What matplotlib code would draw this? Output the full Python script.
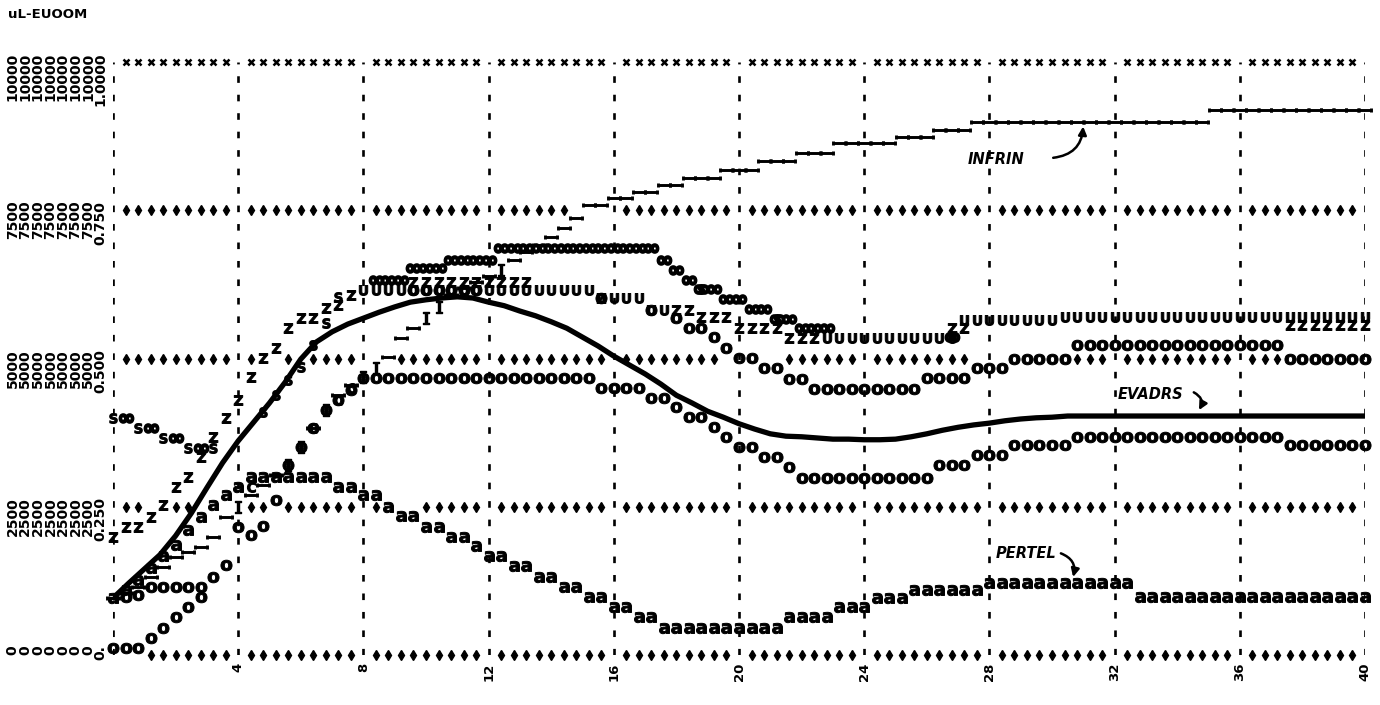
import numpy as np
import matplotlib
matplotlib.use("Agg")
import matplotlib.pyplot as plt
from matplotlib.path import Path

nan = np.nan

# ---------------- data ----------------
TIME = np.round(np.arange(101) * 0.4, 1)          # printer rows, every 0.4
EVADRS_TIME = np.arange(81) * 0.5
X_TICKS = [4, 8, 12, 16, 20, 24, 28, 32, 36, 40]
Y_GRID = [0, 25, 50, 75, 100]
SCALE_LABELS = ["0", "2500", "5000", "7500", "10000"]
SCALE_LABELS_LAST = ["0.", "0.250", "0.500", "0.750", "1.0000"]

EVADRS = [9.6, 12.1, 14.5, 16.9, 20.1, 23.9, 28.2, 32.4, 36.1, 39.3,
          42.5, 46.0, 49.9, 52.8, 54.5, 55.8, 56.8, 57.8, 58.7, 59.5,
          59.9, 60.2, 60.4, 60.2, 59.5, 58.9, 58.0, 57.2, 56.2, 55.1,
          53.6, 52.1, 50.4, 48.9, 47.4, 45.7, 43.8, 42.5, 41.1, 40.1,
          39.0, 38.1, 37.3, 36.9, 36.8, 36.6, 36.4, 36.4, 36.3, 36.3,
          36.4, 36.8, 37.3, 37.9, 38.4, 38.8, 39.1, 39.5, 39.8, 40.0,
          40.1, 40.3, 40.3, 40.3, 40.3, 40.3, 40.3, 40.3, 40.3, 40.3,
          40.3, 40.3, 40.3, 40.3, 40.3, 40.3, 40.3, 40.3, 40.3, 40.3,
          40.3]

PERTEL = [9.6, 11.0, 12.6, 14.7, 16.7, 18.5, 21.1, 23.3, 25.3, 27.0,
          28.3, 30.0, 30.0, 30.0, 30.0, 30.0, 30.0, 30.0, 28.3, 28.3,
          27.0, 27.0, 25.0, 23.4, 23.4, 21.6, 21.6, 19.9, 19.9, 18.4,
          16.7, 16.7, 15.0, 15.0, 13.2, 13.2, 11.5, 11.5, 9.8, 9.8,
          8.1, 8.1, 6.4, 6.4, 4.6, 4.6, 4.6, 4.6, 4.6, 4.6,
          4.6, 4.6, 4.6, 4.6, 6.4, 6.4, 6.4, 6.4, 8.1, 8.1,
          8.1, 9.6, 9.6, 9.6, 11.0, 11.0, 11.0, 11.0, 11.0, 11.0,
          12.1, 12.1, 12.1, 12.1, 12.1, 12.1, 12.1, 12.1, 12.1, 12.1,
          12.1, 12.1, 9.8, 9.8, 9.8, 9.8, 9.8, 9.8, 9.8, 9.8,
          9.8, 9.8, 9.8, 9.8, 9.8, 9.8, 9.8, 9.8, 9.8, 9.8,
          9.8]

INFRIN = [9.6, 10.5, 11.5, 13.2, 14.8, 16.5, 17.4, 18.2, 19.9, 23.3,
          25.0, 27.0, 28.7, 30.4, 32.0, 35.1, 38.3, 41.3, 43.8, 45.5,
          46.9, 48.4, 50.3, 53.5, 55.1, 56.8, 58.7, 60.7, 61.9, 62.9,
          63.9, 64.9, 66.6, 67.9, 69.1, 70.5, 72.0, 73.7, 75.9, 75.9,
          77.1, 77.1, 78.1, 78.1, 79.3, 79.3, 80.4, 80.4, 80.4, 81.8,
          81.8, 81.8, 83.3, 83.3, 83.3, 84.7, 84.7, 84.7, 86.3, 86.3,
          86.3, 86.3, 86.3, 87.4, 87.4, 87.4, 88.5, 88.5, 88.5, 89.9,
          89.9, 89.9, 89.9, 89.9, 89.9, 89.9, 89.9, 89.9, 89.9, 89.9,
          89.9, 89.9, 89.9, 89.9, 89.9, 89.9, 89.9, 89.9, 91.9, 91.9,
          91.9, 91.9, 91.9, 91.9, 91.9, 91.9, 91.9, 91.9, 91.9, 91.9,
          91.9]

H_TIME = [4.0, 5.6, 6.0, 6.8, 8.0, 8.4, 10.0, 10.4, 12.4]
H_VALS = [25.0, 32.0, 35.1, 41.3, 46.9, 48.4, 56.8, 58.7, 64.9]

LOWER_O = [nan, 9.8, 10.1, 11.5, 11.5, 11.5, 11.5, 11.5, 13.2, 15.2,
           21.6, 20.2, 21.8, 26.1, 32.0, 35.1, 38.3, 41.3, 43.0, 44.7,
           46.7, 46.7, 46.7, 46.7, 46.7, 46.7, 46.7, 46.7, 46.7, 46.7,
           46.7, 46.7, 46.7, 46.7, 46.7, 46.7, 46.7, 46.7, 46.7, 45.0,
           45.0, 45.0, 45.0, 43.3, 43.3, 41.8, 40.1, 40.1, 38.4, 36.8,
           35.1, 35.1, 33.4, 33.4, 31.7, 29.8, 29.8, 29.8, 29.8, 29.8,
           29.8, 29.8, 29.8, 29.8, 29.8, 29.8, 32.0, 32.0, 32.0, 33.7,
           33.7, 33.7, 35.4, 35.4, 35.4, 35.4, 35.4, 36.8, 36.8, 36.8,
           36.8, 36.8, 36.8, 36.8, 36.8, 36.8, 36.8, 36.8, 36.8, 36.8,
           36.8, 36.8, 36.8, 36.8, 35.4, 35.4, 35.4, 35.4, 35.4, 35.4,
           35.4]

UPPER_O = [nan, nan, nan, nan, nan, nan, nan, nan, nan, nan,
           nan, nan, nan, nan, nan, nan, nan, nan, nan, nan,
           nan, nan, nan, nan, 61.5, 61.5, 61.5, 61.5, 61.5, 61.5,
           nan, nan, nan, nan, nan, nan, nan, nan, nan, 60.2,
           nan, nan, nan, 58.2, nan, 56.8, 55.1, 55.1, 53.6, 51.8,
           50.1, 50.1, 48.4, 48.4, 46.5, 46.5, 44.9, 44.9, 44.9, 44.9,
           44.9, 44.9, 44.9, 44.9, 44.9, 46.7, 46.7, 46.7, 46.7, 48.4,
           48.4, 48.4, 49.9, 49.9, 49.9, 49.9, 49.9, 52.3, 52.3, 52.3,
           52.3, 52.3, 52.3, 52.3, 52.3, 52.3, 52.3, 52.3, 52.3, 52.3,
           52.3, 52.3, 52.3, 52.3, 49.9, 49.9, 49.9, 49.9, 49.9, 49.9,
           49.9]

U_SERIES = [nan, nan, nan, nan, nan, nan, nan, nan, nan, nan,
            nan, nan, nan, nan, nan, nan, nan, nan, nan, nan,
            61.5, 61.5, 61.5, 61.5, 61.5, 61.5, 61.5, 61.5, 61.5, 61.5,
            61.5, 61.5, 61.5, 61.5, 61.5, 61.5, 61.5, 61.5, 61.5, 60.2,
            60.2, 60.2, 60.2, 58.2, 58.2, nan, nan, nan, nan, nan,
            nan, nan, nan, nan, nan, nan, nan, 53.5, 53.5, 53.5,
            53.5, 53.5, 53.5, 53.5, 53.5, 53.5, 53.5, 53.5, 56.5, 56.5,
            56.5, 56.5, 56.5, 56.5, 56.5, 56.5, 57.0, 57.0, 57.0, 57.0,
            57.0, 57.0, 57.0, 57.0, 57.0, 57.0, 57.0, 57.0, 57.0, 57.0,
            57.0, 57.0, 57.0, 57.0, 57.0, 57.0, 57.0, 57.0, 57.0, 57.0,
            57.0]

Z_SERIES = [19.9, 21.6, 21.6, 23.3, 25.3, 28.3, 30.0, 33.4, 36.8, 40.0,
            43.0, 46.9, 50.1, 51.8, 55.1, 56.8, 56.8, 58.5, 59.0, 60.7,
            nan, nan, nan, nan, 62.9, 62.9, 62.9, 62.9, 62.9, 62.9,
            62.9, 62.9, 62.9, 62.9, nan, nan, nan, nan, nan, 60.2,
            nan, nan, nan, nan, nan, 58.2, 58.2, 57.0, 57.0, 57.0,
            55.1, 55.1, 55.1, 55.1, 53.5, 53.5, 53.5, nan, nan, nan,
            nan, nan, nan, nan, nan, nan, nan, 55.1, 55.1, nan,
            nan, nan, nan, nan, nan, nan, nan, nan, nan, nan,
            nan, nan, nan, nan, nan, nan, nan, nan, nan, nan,
            nan, nan, nan, nan, 55.6, 55.6, 55.6, 55.6, 55.6, 55.6,
            55.6]

EIGHT_TIME = [0.4, 1.2, 2.0, 2.8, 8.4, 8.8, 9.2, 9.6, 10.0, 10.4, 10.8, 11.2, 11.6, 12.0,
              12.4, 12.8, 13.2, 13.6, 14.0, 14.4, 14.8, 15.2, 15.6, 16.0, 16.4, 16.8,
              17.2, 17.6, 18.0, 18.4, 18.8, 19.2, 19.6, 20.0, 20.4, 20.8, 21.2, 21.6,
              22.0, 22.4, 22.8, 26.8]
EIGHT_VALS = [40.0, 38.3, 36.6, 34.9, 63.2, 63.2, 63.2, 65.3, 65.3, 65.3, 66.6, 66.6, 66.6,
              66.6, 68.6, 68.6, 68.6, 68.6, 68.6, 68.6, 68.6, 68.6, 68.6, 68.6, 68.6, 68.6,
              68.6, 66.6, 64.9, 63.2, 61.7, 61.7, 60.0, 60.0, 58.3, 58.3, 56.7, 56.7,
              55.1, 55.1, 55.1, 53.6]

S_TIME = [0.0, 0.8, 1.6, 2.4, 3.2, 4.8, 5.2, 5.6, 6.0, 6.4, 6.8, 7.2, 18.8, 21.2]
S_VALS = [40.0, 38.3, 36.6, 34.9, 34.9, 41.0, 43.8, 46.4, 48.6, 52.3, 56.0, 60.4, 61.7, 56.7]

C_TIME = [4.4, 6.4, 7.2, 7.6]
C_VALS = [28.3, 38.3, 43.0, 45.0]

BOTTOM_O_TIME = [0.0, 0.4, 0.8, 1.2, 1.6, 2.0, 2.4, 2.8]
BOTTOM_O_VALS = [1.2, 1.2, 1.2, 2.9, 4.6, 6.4, 8.1, 9.8]

# ---------------- figure ----------------
fig = plt.figure(figsize=(13.8, 7.05), dpi=100)
ax = fig.add_axes([113 / 1380, 50 / 705, 1252 / 1380, 593 / 705])
ax.set_xlim(0, 40)
ax.set_ylim(0, 100)
ax.axis("off")

k = np.arange(len(TIME))

# positions where a printed glyph replaces the grid-line symbol
dense = [LOWER_O, UPPER_O, U_SERIES, Z_SERIES, PERTEL, INFRIN]
sparse = [(EIGHT_TIME, EIGHT_VALS), (S_TIME, S_VALS), (C_TIME, C_VALS),
          (BOTTOM_O_TIME, BOTTOM_O_VALS), (H_TIME, H_VALS)]


def occupied(yv):
    occ = np.zeros(len(TIME), dtype=bool)
    for s in dense:
        a = np.array(s, dtype=float)
        occ |= np.abs(a - yv) < 2.0
    for tt, vv in sparse:
        for t_, v_ in zip(tt, vv):
            if abs(v_ - yv) < 2.0:
                occ[int(round(t_ / 0.4))] = True
    return occ


# vertical dashed grid lines
for xv in [0] + X_TICKS:
    ax.plot([xv, xv], [0, 100], color="black", lw=1.9, ls=(0, (2.5, 4.5)),
            solid_capstyle="butt", zorder=1)

# horizontal grid rows made of printed symbols
for yv in Y_GRID:
    keep = ((k % 10) != 0) & ~occupied(yv)
    if yv == Y_GRID[-1]:
        ax.plot(TIME[keep], np.full(keep.sum(), yv), ls="none", marker="x",
                ms=5, mew=1.8, color="black", zorder=1, clip_on=False)
    else:
        ax.plot(TIME[keep], np.full(keep.sum(), yv), ls="none", marker="d",
                ms=5.5, color="black", zorder=1, clip_on=False)


def glyphs(x, y, marker, ms, mew=0.7, **kw):
    ax.plot(x, y, ls="none", marker=marker, ms=ms, mew=mew, color="black",
            zorder=3, clip_on=False, **kw)


glyphs(TIME, LOWER_O, r"$\mathbf{o}$", 8)
glyphs(TIME, UPPER_O, r"$\mathbf{o}$", 8)
glyphs(BOTTOM_O_TIME, BOTTOM_O_VALS, r"$\mathbf{o}$", 8)
glyphs(TIME, U_SERIES, r"$\mathbf{U}$", 7.2)
glyphs(TIME, Z_SERIES, r"$\mathbf{Z}$", 7.2)
glyphs(S_TIME, S_VALS, r"$\mathbf{S}$", 7.2)
glyphs(C_TIME, C_VALS, r"$\mathbf{C}$", 7.2)
glyphs(EIGHT_TIME, EIGHT_VALS, r"$\infty$", 9.5, mew=1.9)
glyphs(TIME, PERTEL, r"$\mathbf{a}$", 7.5)

# INFRIN: printed as a sideways "I" (bar with end serifs)
bar = Path([(-1, 0), (1, 0), (-1, -0.35), (-1, 0.35), (1, -0.35), (1, 0.35)],
           [Path.MOVETO, Path.LINETO, Path.MOVETO, Path.LINETO, Path.MOVETO, Path.LINETO])
h_idx = np.round(np.array(H_TIME) / 0.4).astype(int)
bar_mask = np.ones(len(TIME), dtype=bool)
bar_mask[h_idx] = False
glyphs(TIME[bar_mask], np.array(INFRIN)[bar_mask], bar, 8.2, mew=2.1, mfc="none")
glyphs(H_TIME, H_VALS, r"$\mathtt{I}$", 8.5, mew=1.0)

# EVADRS solid line
ax.plot(EVADRS_TIME, EVADRS, color="black", lw=3.8, solid_capstyle="round", zorder=4)

# tick labels (printed sideways)
for xv in X_TICKS:
    ax.text(xv, -1.3, str(xv), rotation=90, ha="center", va="top",
            fontsize=9.5, fontweight="bold", family="DejaVu Sans")

# left scale labels: one sideways number per printer column
label_cols = TIME[1:9] - 3.6      # columns left of the plot (-3.2 ... -0.4)
for yv, lab, lab_last in zip(Y_GRID, SCALE_LABELS, SCALE_LABELS_LAST):
    for j, xc in enumerate(label_cols):
        txt = lab_last if j == len(label_cols) - 1 else lab
        ax.text(xc, yv + 1.6, txt, rotation=90, ha="center", va="top",
                fontsize=10, fontweight="bold", family="DejaVu Sans",
                clip_on=False)

# title
fig.text(8 / 1380, 1 - 14 / 705, "uL-EUOOM", fontsize=9.5, fontweight="bold",
         family="DejaVu Sans", ha="left", va="center")

# handwritten annotations
hand = dict(fontsize=10.5, fontweight="bold", style="italic", family="DejaVu Sans")
ax.text(27.3, 83.6, "INFRIN", ha="left", va="center", **hand)
ax.annotate("", xy=(31.0, 89.6), xytext=(29.95, 83.8),
            arrowprops=dict(arrowstyle="-|>", connectionstyle="arc3,rad=0.45",
                            lw=1.8, color="black", mutation_scale=12))
ax.text(32.1, 43.9, "EVADRS", ha="left", va="center", **hand)
ax.annotate("", xy=(34.65, 40.9), xytext=(34.45, 44.5),
            arrowprops=dict(arrowstyle="-|>", connectionstyle="arc3,rad=-0.6",
                            lw=1.8, color="black", mutation_scale=12))
ax.text(28.2, 17.2, "PERTEL", ha="left", va="center", **hand)
ax.annotate("", xy=(30.65, 12.7), xytext=(30.2, 17.3),
            arrowprops=dict(arrowstyle="-|>", connectionstyle="arc3,rad=-0.5",
                            lw=1.8, color="black", mutation_scale=12))

fig.savefig("out.png", dpi=100, facecolor="white")
